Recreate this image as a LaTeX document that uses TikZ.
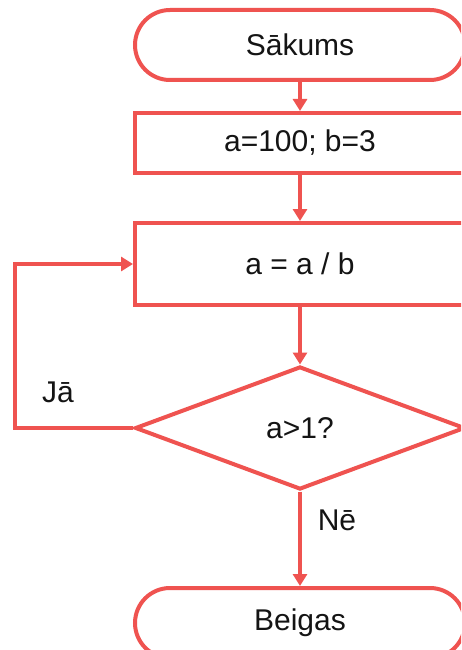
\documentclass[tikz,border=0pt]{standalone}
\usepackage{fontspec}
\setmainfont{Liberation Sans}
\usetikzlibrary{shapes.misc,shapes.geometric,arrows.meta}
\definecolor{fc}{RGB}{239,83,80}
\definecolor{tc}{RGB}{20,20,20}
\begin{document}
\begin{tikzpicture}[x=1pt,y=-1pt,
  every node/.style={font=\fontsize{30}{36}\selectfont, text=tc},
  shp/.style={draw=fc, line width=4pt, fill=white, minimum width=330pt, inner sep=0pt},
  term/.style={shp, rounded rectangle, minimum height=70pt},
  proc/.style={shp, rectangle},
  dec/.style={shp, diamond, minimum width=330pt, minimum height=123pt},
  conn/.style={draw=fc, line width=4pt, -{Triangle[length=12pt,width=14pt]}},
  lbl/.style={inner sep=0pt}]
\useasboundingbox (0,0) rectangle (461,650);
\clip (0,0) rectangle (461,650);
\node[term] (start) at (300,45) {Sākums};
\node[proc, minimum height=60pt] (init) at (300,143) {a=100; b=3};
\node[proc, minimum height=82pt] (calc) at (300,264) {a = a / b};
\node[dec] (cond) at (300,428) {a>1?};
\node[term] (stop) at (300,623) {Beigas};
\coordinate (lp) at (15,428);
\draw[conn] (start) -- (init);
\draw[conn] (init) -- (calc);
\draw[conn] (calc) -- (cond);
\draw[conn] (cond) -- (stop);
\draw[conn] (cond.west) -- (lp) |- (calc.west);
\node[lbl] (ja) at (58,392) {Jā};
\node[lbl] (ne) at (337,520) {Nē};
\end{tikzpicture}
\end{document}
